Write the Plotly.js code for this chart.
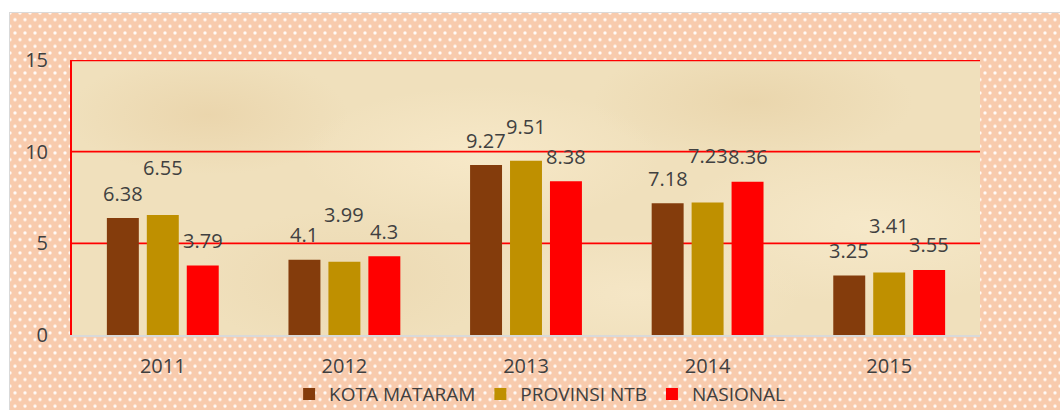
<!DOCTYPE html>
<html>
<head>
<meta charset="utf-8">
<script src="https://cdn.plot.ly/plotly-3.0.1.min.js"></script>
<style>
  html, body { margin: 0; padding: 0; background: #ffffff; }
  #wrap { position: relative; width: 1060px; height: 410px; overflow: hidden; background: #ffffff; }
  #dots {
    position: absolute; left: 9px; top: 12px; width: 1051px; height: 398px;
    background-color: #f8cbad;
    background-image:
      radial-gradient(circle, #ffffff 0px, #fff8f3 1px, rgba(248,203,173,0) 2.2px),
      radial-gradient(circle, #ffffff 0px, #fff8f3 1px, rgba(248,203,173,0) 2.2px);
    background-size: 10px 13.33px, 10px 13.33px;
    background-position: 0 0, 5px 6.67px;
    border-left: 1px solid #d9d9d9;
    border-top: 1px solid #d9d9d9;
  }
  #parch {
    position: absolute; left: 72px; top: 60px; width: 908px; height: 275px;
    background-color: #f0e0bc;
    background-image:
      radial-gradient(ellipse 140px 60px at 15% 20%, rgba(230,205,160,0.55), rgba(230,205,160,0)),
      radial-gradient(ellipse 180px 70px at 45% 35%, rgba(250,236,205,0.7), rgba(250,236,205,0)),
      radial-gradient(ellipse 160px 60px at 75% 15%, rgba(228,204,158,0.5), rgba(228,204,158,0)),
      radial-gradient(ellipse 200px 80px at 88% 60%, rgba(250,238,210,0.6), rgba(250,238,210,0)),
      radial-gradient(ellipse 150px 70px at 30% 80%, rgba(232,210,168,0.5), rgba(232,210,168,0)),
      radial-gradient(ellipse 170px 60px at 62% 85%, rgba(248,234,204,0.6), rgba(248,234,204,0));
  }
  #chart { position: absolute; left: 0; top: 0; width: 1060px; height: 410px; }
</style>
</head>
<body>
<div id="wrap">
  <div id="dots"></div>
  <div id="parch"></div>
  <div id="chart"></div>
</div>
<script>
// ---- data ----
var years = ['2011', '2012', '2013', '2014', '2015'];
var kotaMataram = [6.38, 4.1, 9.27, 7.18, 3.25];
var provinsiNTB = [6.55, 3.99, 9.51, 7.23, 3.41];
var nasional = [3.79, 4.3, 8.38, 8.36, 3.55];
var seriesNames = ['KOTA MATARAM', 'PROVINSI NTB', 'NASIONAL'];
var yTicks = [0, 5, 10, 15];

// ---- style ----
var colors = ['#843c0c', '#bf9000', '#ff0000'];
var labelXShift = [-40, 0, 40];
var labelLift = [25, 47, 25];
var liftOverride = { '1|2013': 34 };
var fontFam = '"Open Sans", "DejaVu Sans", sans-serif';
var textCol = '#404040';

var allSeries = [kotaMataram, provinsiNTB, nasional];

var traces = allSeries.map(function (vals, i) {
  return {
    type: 'bar',
    name: seriesNames[i],
    x: years,
    y: vals,
    marker: { color: colors[i] },
    hoverinfo: 'x+y+name'
  };
});

var annotations = [];
allSeries.forEach(function (vals, i) {
  vals.forEach(function (v, j) {
    var key = i + '|' + years[j];
    var lift = liftOverride[key] !== undefined ? liftOverride[key] : labelLift[i];
    annotations.push({
      x: j, y: v, xref: 'x', yref: 'y',
      text: String(v),
      showarrow: false,
      xshift: labelXShift[i],
      yshift: lift,
      yanchor: 'middle',
      font: { family: fontFam, size: 20, color: textCol }
    });
  });
});

// red grid lines (behind the bars), top one thicker
var shapes = yTicks.filter(function (t) { return t > 0; }).map(function (t) {
  return {
    type: 'line', xref: 'paper', yref: 'y', x0: 0, x1: 1, y0: t, y1: t,
    line: { color: '#ff0000', width: t === 15 ? 2.5 : 1.6 }, layer: 'below'
  };
});

var layout = {
  width: 1060, height: 410,
  margin: { l: 72, r: 80, t: 60, b: 75, autoexpand: false },
  paper_bgcolor: 'rgba(0,0,0,0)',
  plot_bgcolor: 'rgba(0,0,0,0)',
  barmode: 'group',
  bargap: 0.34,
  bargroupgap: 0.2,
  showlegend: true,
  legend: {
    orientation: 'h', x: 0.515, xanchor: 'center', y: -0.215, yanchor: 'middle',
    font: { family: fontFam, size: 19, color: textCol },
    bgcolor: 'rgba(0,0,0,0)', itemwidth: 30, traceorder: 'normal'
  },
  xaxis: {
    type: 'category',
    range: [-0.5, 4.5],
    showgrid: false, zeroline: false,
    showline: true, linecolor: '#d9d9d9', linewidth: 2,
    ticks: '', ticklabelstandoff: 12,
    tickfont: { family: fontFam, size: 20, color: textCol }
  },
  yaxis: {
    range: [0, 15], tickvals: yTicks, ticktext: yTicks.map(String),
    showgrid: false,
    zeroline: false,
    showline: true, linecolor: '#ff0000', linewidth: 2,
    ticks: '', ticklabelstandoff: 18,
    tickfont: { family: fontFam, size: 20, color: textCol }
  },
  annotations: annotations,
  shapes: shapes
};

Plotly.newPlot('chart', traces, layout, { displayModeBar: false, staticPlot: true });
</script>
</body>
</html>
